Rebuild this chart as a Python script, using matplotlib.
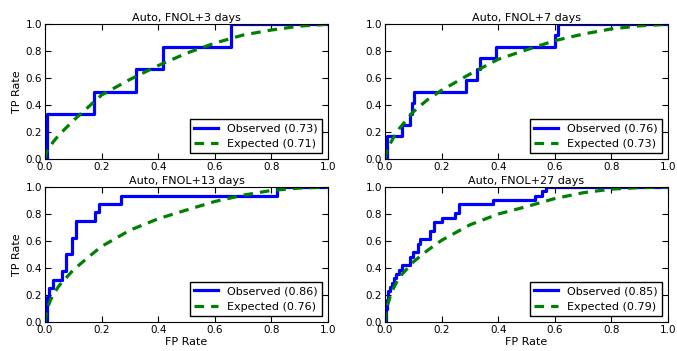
import matplotlib
matplotlib.use("Agg")
import matplotlib.pyplot as plt

titles = ["Auto, FNOL+3 days", "Auto, FNOL+7 days",
          "Auto, FNOL+13 days", "Auto, FNOL+27 days"]
auc_obs = [0.73, 0.76, 0.86, 0.85]
auc_exp = [0.71, 0.73, 0.76, 0.79]

# observed ROC: fpr where each step happens, tpr level after the step
obs_fpr_3 = [0, 0.008, 0.173, 0.32, 0.418, 0.657, 1.0]
obs_tpr_3 = [0, 0.333, 0.5, 0.667, 0.833, 1.0, 1.0]
obs_fpr_7 = [0, 0.006, 0.059, 0.09, 0.094, 0.104, 0.285, 0.325, 0.337,
             0.393, 0.599, 0.612, 1.0]
obs_tpr_7 = [0, 0.167, 0.25, 0.333, 0.417, 0.5, 0.583, 0.667, 0.75,
             0.833, 0.917, 1.0, 1.0]
obs_fpr_13 = [0, 0.008, 0.014, 0.029, 0.06, 0.073, 0.095, 0.109, 0.178,
              0.19, 0.268, 0.821, 1.0]
obs_tpr_13 = [0, 0.1875, 0.25, 0.3125, 0.375, 0.5, 0.625, 0.75, 0.8125,
              0.875, 0.9375, 1.0, 1.0]
obs_fpr_27 = [0, 0.003, 0.008, 0.012, 0.018, 0.025, 0.032, 0.04, 0.048,
              0.06, 0.088, 0.1, 0.118, 0.125, 0.158, 0.172, 0.2, 0.248,
              0.262, 0.38, 0.53, 0.555, 0.57, 1.0]
obs_tpr_27 = [0, 0.097, 0.161, 0.226, 0.258, 0.29, 0.323, 0.355, 0.387,
              0.419, 0.484, 0.516, 0.581, 0.613, 0.677, 0.742, 0.774, 0.806,
              0.871, 0.903, 0.935, 0.968, 1.0, 1.0]

exp_fpr = [0, 0.005, 0.01, 0.02, 0.03, 0.05, 0.1, 0.15, 0.2, 0.3, 0.4,
           0.5, 0.6, 0.7, 0.8, 0.9, 1.0]
exp_tpr_3 = [0.0, 0.05, 0.07, 0.10, 0.13, 0.18, 0.285, 0.38, 0.475, 0.59,
             0.693, 0.785, 0.86, 0.92, 0.957, 0.986, 1.0]
exp_tpr_7 = [0.0, 0.055, 0.08, 0.12, 0.16, 0.225, 0.35, 0.44, 0.51, 0.63,
             0.74, 0.81, 0.878, 0.927, 0.965, 0.988, 1.0]
exp_tpr_13 = [0.0, 0.08, 0.11, 0.165, 0.205, 0.27, 0.385, 0.475, 0.56,
              0.68, 0.765, 0.83, 0.893, 0.94, 0.975, 0.993, 1.0]
exp_tpr_27 = [0.0, 0.09, 0.13, 0.2, 0.25, 0.33, 0.445, 0.53, 0.605, 0.72,
              0.80, 0.855, 0.915, 0.958, 0.985, 0.996, 1.0]

obs = [(obs_fpr_3, obs_tpr_3), (obs_fpr_7, obs_tpr_7),
       (obs_fpr_13, obs_tpr_13), (obs_fpr_27, obs_tpr_27)]
exp = [exp_tpr_3, exp_tpr_7, exp_tpr_13, exp_tpr_27]

plt.rcParams.update({"font.size": 7.5, "xtick.direction": "in",
                     "ytick.direction": "in", "xtick.top": True,
                     "ytick.right": True, "xtick.major.size": 4,
                     "ytick.major.size": 4})

fig = plt.figure(figsize=(6.77, 3.51), dpi=100)
W, H = 0.418, 0.384
pos = [(0.0665, 0.547), (0.5687, 0.547), (0.0665, 0.083), (0.5687, 0.083)]

for i in range(4):
    ax = fig.add_axes([pos[i][0], pos[i][1], W, H])
    fx, ty = obs[i]
    ax.step(fx, ty, where="post", color="#0000ff", lw=2.3,
            label=f"Observed ({auc_obs[i]:.2f})")
    ax.plot(exp_fpr, exp[i], color="#008000", lw=2.3, ls=(0, (3, 2.2)),
            label=f"Expected ({auc_exp[i]:.2f})")
    ax.set_xlim(0, 1)
    ax.set_ylim(0, 1)
    ax.set_xticks([0, 0.2, 0.4, 0.6, 0.8, 1.0])
    ax.set_yticks([0, 0.2, 0.4, 0.6, 0.8, 1.0])
    ax.set_title(titles[i], fontsize=8, pad=2)
    if i % 2 == 0:
        ax.set_ylabel("TP Rate", fontsize=8, labelpad=3)
    if i >= 2:
        ax.set_xlabel("FP Rate", fontsize=8, labelpad=2)
    ax.tick_params(pad=2)
    ax.legend(loc="lower right", fancybox=False, edgecolor="black",
              fontsize=8, handlelength=2.2, borderaxespad=0.5,
              framealpha=1)

fig.savefig("out.png", dpi=100)
